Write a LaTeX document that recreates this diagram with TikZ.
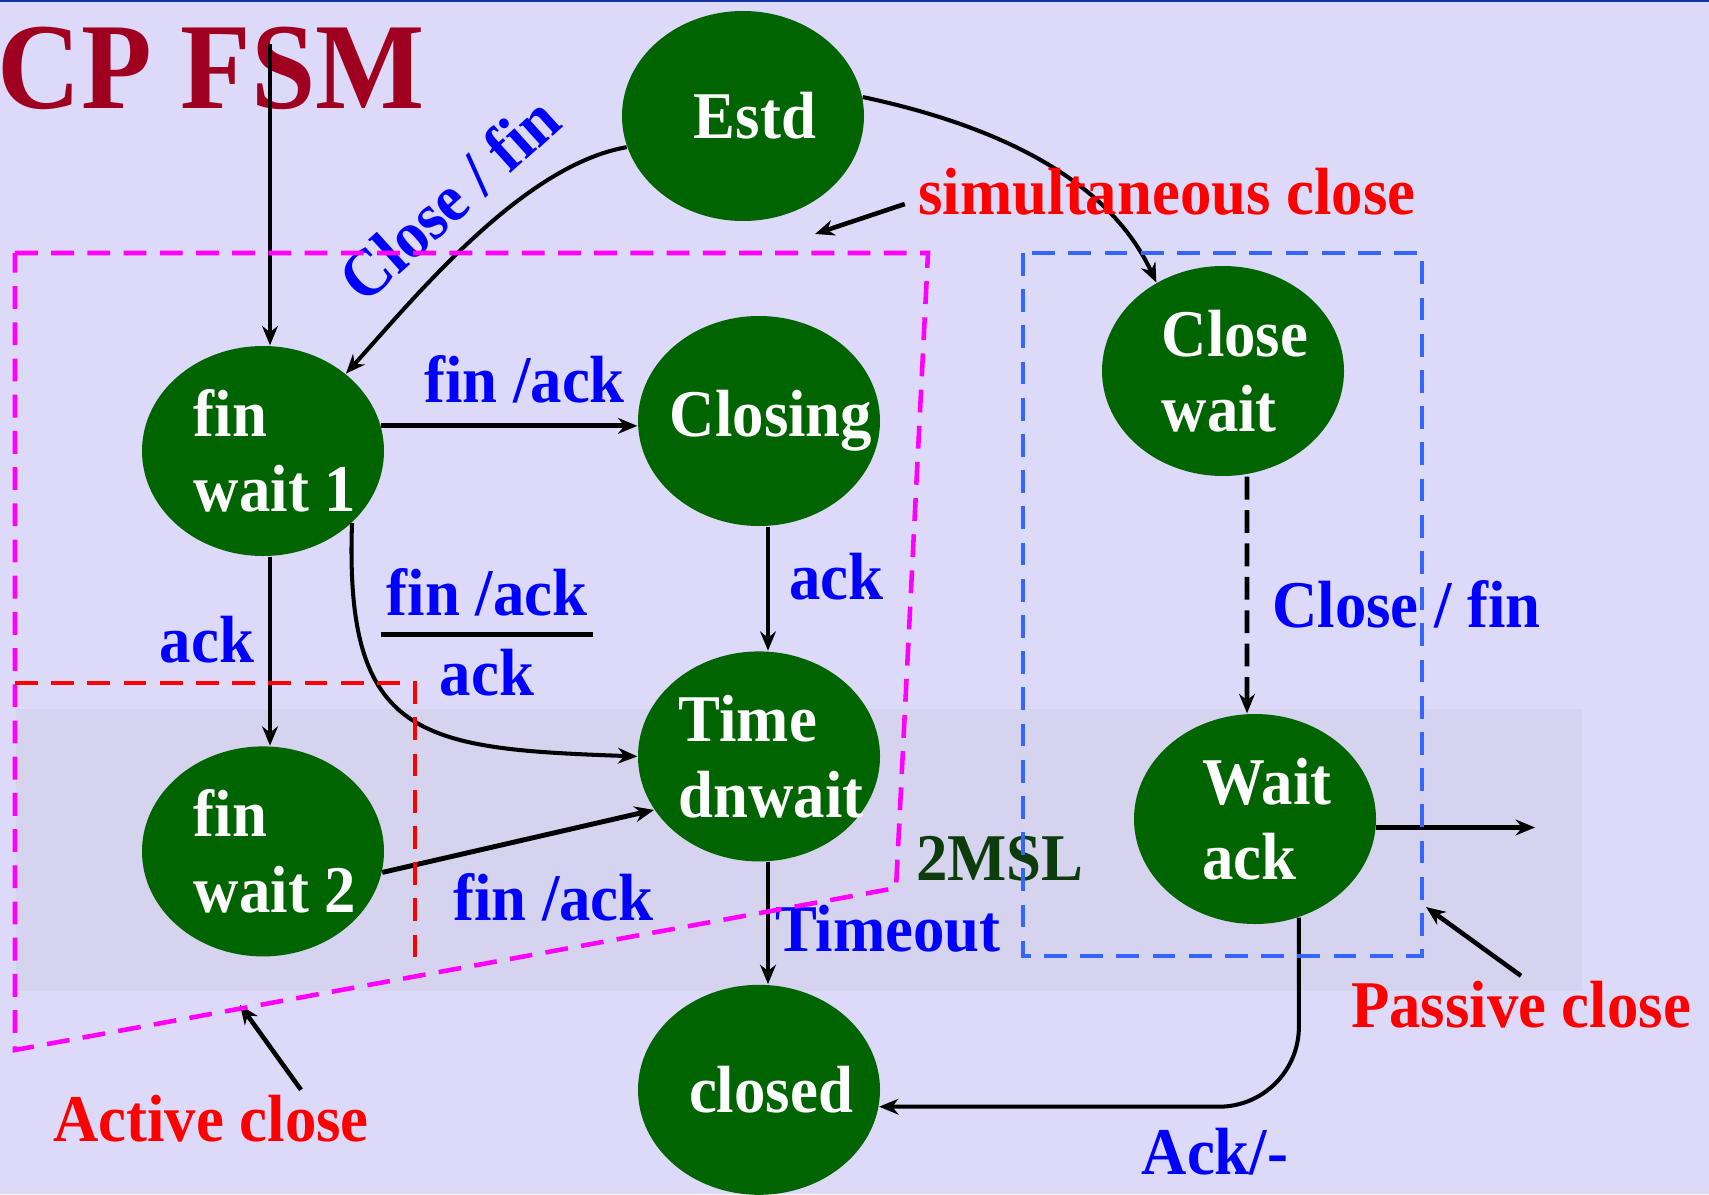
\documentclass[tikz,border=0pt]{standalone}
\usepackage{fontspec}
\setmainfont{Liberation Serif}[FakeStretch=0.94]
\usetikzlibrary{shapes,arrows.meta,positioning}

\definecolor{slide}{RGB}{221,217,248}
\definecolor{photo}{RGB}{214,211,238}
\definecolor{stategreen}{RGB}{0,100,0}
\definecolor{lblue}{RGB}{0,0,255}
\definecolor{titlered}{RGB}{160,0,32}
\definecolor{mslgreen}{RGB}{12,60,12}
\definecolor{boxblue}{RGB}{51,102,255}
\definecolor{boxmagenta}{RGB}{255,0,255}
\definecolor{topblue}{RGB}{20,50,160}

\begin{document}
\begin{tikzpicture}[
        statetext/.style={text=white, align=left, inner sep=0pt, xshift=0.12cm,
            font=\fontsize{19}{21.5}\selectfont\bfseries},
        state/.style={ellipse, fill=stategreen, minimum width=2.42cm, minimum height=2.10cm,
            inner sep=0pt, label={[statetext]center:#1}},
        lbl/.style={text=lblue, inner sep=0.05cm, font=\fontsize{19}{21.5}\selectfont\bfseries},
        note/.style={text=red, inner sep=0.05cm, font=\fontsize{19}{21.5}\selectfont\bfseries},
        trans/.style={draw, line width=1.15pt, -{Stealth[length=5.5pt,width=4.5pt]}},
        heavy/.style={trans, line width=1.4pt},
        pointer/.style={draw, line width=1.3pt, -{Stealth[length=5.5pt,width=4.5pt]}},
        region/.style={line width=1.3pt, dash pattern=on 6.5pt off 3.8pt}]
        % Slide background
        \useasboundingbox (0,0) rectangle (17.09,11.94);
        \fill[slide] (0,0) rectangle (17.09,11.94);
        \fill[photo] (0.16,2.03) rectangle (15.82,4.85);
        \fill[topblue] (0,11.92) rectangle (17.09,11.94);
        \node[anchor=base west, inner sep=0pt, text=titlered,
            font=\fontsize{35}{40}\selectfont\bfseries] (title) at (-0.03,10.85) {CP FSM};

        % Place states
        \node[state=Estd] (estd) at (7.43,10.78) {};
        \node[state={fin\\wait 1}] (fw1) at (2.63,7.43) {};
        \node[state=Closing] (clos) at (7.59,7.73) {};
        \node[state={Close\\wait}] (cw) at (12.23,8.23) {};
        \node[state={Time\\dnwait}, below=1.24cm of clos] (tw) {};
        \node[state=closed, below=1.22cm of tw] (closed) {};
        \node[state={fin\\wait 2}, below=1.89cm of fw1] (fw2) {};
        \node[state={Wait\\ack}] (wa) at (12.55,3.75) {};

        % Draw transitions
        \coordinate (init) at (2.70,11.50);
        \draw[trans] (init) -- (init |- fw1.north);
        \draw[trans] (estd.195) to[out=190,in=48,looseness=0.75]
            node[lbl, sloped, above=0.15cm, pos=0.48] {Close / fin} (fw1.43);
        \draw[trans] (estd.9) to[out=-12,in=115,looseness=0.9] (cw.127);
        \draw[heavy] (fw1.12) -- node[lbl, above=0.15cm, pos=0.56] {fin /ack} (fw1.12 -| clos.west);
        \draw[trans] ([xshift=0.07cm]fw1.south) -- node[lbl, left=0.09cm, pos=0.44] {ack} ([xshift=0.07cm]fw2.north);
        \draw[trans] (fw1.-39) to[out=-92,in=178,looseness=1.5] (tw.west);
        \node[lbl] (finack) at (4.87,6.02) {fin /ack};
        \draw[line width=1.2pt] ([yshift=-0.13cm]finack.south west) -- ([yshift=-0.13cm]finack.south east);
        \node[lbl, below=0.22cm of finack] (ackbar) {ack};
        \draw[trans] ([xshift=0.09cm]clos.south) -- node[lbl, right=0.14cm, pos=0.4] {ack} ([xshift=0.09cm]tw.north);
        \draw[heavy] (fw2.-10) -- node[lbl, below=0.33cm, pos=0.63] {fin /ack} (tw.207);
        \draw[trans] ([xshift=0.09cm]tw.south) -- node[lbl, right=0cm, pos=0.55] (timeout) {Timeout} ([xshift=0.09cm]closed.north);
        \node[text=mslgreen, inner sep=0.05cm, font=\fontsize{19}{21.5}\selectfont\bfseries] (msl) at (10.00,3.35) {2MSL};
        \draw[trans, line width=1.3pt, dash pattern=on 6.5pt off 3pt] ([xshift=0.24cm]cw.south) -- node[lbl, right=0.18cm, pos=0.54] {Close / fin} ([xshift=-0.08cm]wa.north);
        \coordinate (wout) at (15.35,3.67);
        \draw[heavy] (wa.-4) -- (wa.-4 -| wout);
        \draw[trans, rounded corners=0.8cm] (wa.-66) |- node[lbl, below=0.14cm, pos=0.6] {Ack/-} (closed.-8);

        % Notes
        \node[note] (simul) at (11.67,10.02) {simultaneous close};
        \node[note] (passive) at (15.21,1.89) {Passive close};
        \node[note] (active) at (2.11,0.75) {Active close};
        \coordinate (simtip) at (8.15,9.60);
        \coordinate (pastip) at (14.26,2.87);
        \coordinate (acttip) at (2.40,1.89);
        \draw[pointer] ([shift={(-0.08,-0.12)}]simul.west) -- (simtip);
        \draw[pointer] (passive.north) -- (pastip);
        \draw[pointer] ([xshift=0.9cm]active.north) -- (acttip);

        % Active / passive regions
        \draw[region, boxmagenta] (0.15,9.41) -- (9.28,9.41) -- (8.96,3.06) -- (0.15,1.44) -- cycle;
        \draw[region, red] (0.15,5.11) -- (4.15,5.11) -- (4.15,2.29);
        \draw[region, boxblue] (10.23,9.41) rectangle (14.22,2.38);
    \end{tikzpicture}
\end{document}
